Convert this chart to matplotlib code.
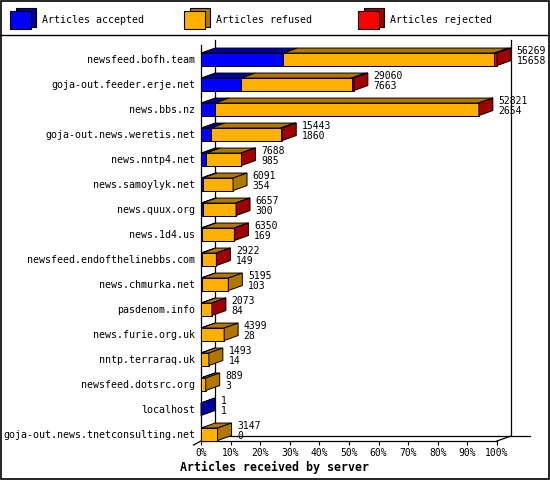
import numpy as np
import matplotlib
matplotlib.use('Agg')
import matplotlib.pyplot as plt
from matplotlib.patches import Polygon, Rectangle

servers = ['newsfeed.bofh.team', 'goja-out.feeder.erje.net', 'news.bbs.nz',
           'goja-out.news.weretis.net', 'news.nntp4.net', 'news.samoylyk.net',
           'news.quux.org', 'news.1d4.us', 'newsfeed.endofthelinebbs.com',
           'news.chmurka.net', 'pasdenom.info', 'news.furie.org.uk',
           'nntp.terraraq.uk', 'newsfeed.dotsrc.org', 'localhost',
           'goja-out.news.tnetconsulting.net']
total = [56269, 29060, 52821, 15443, 7688, 6091, 6657, 6350, 2922, 5195,
         2073, 4399, 1493, 889, 1, 3147]
accepted = [15658, 7663, 2654, 1860, 985, 354, 300, 169, 149, 103,
            84, 28, 14, 3, 1, 0]
# rejected is not printed on the chart, read roughly from the red parts
rejected = [480, 450, 40, 330, 60, 0, 50, 40, 30, 0, 20, 0, 0, 0, 0, 0]
refused = [t - a - r for t, a, r in zip(total, accepted, rejected)]

series = ['Articles accepted', 'Articles refused', 'Articles rejected']
front_col = ['#0000FF', '#FFB000', '#FF0000']
dark_col = ['#0000A0', '#B07800', '#A00000']
ticks = np.arange(0, 101, 10)

FONT = 'DejaVu Sans Mono'
plt.rcParams['font.family'] = FONT

fig = plt.figure(figsize=(5.5, 4.8), dpi=100)
W, H = 550, 480

# decoration layer in pixels: frame, legend
deco = fig.add_axes([0, 0, 1, 1], zorder=0)
deco.set_xlim(0, W)
deco.set_ylim(H, 0)
deco.axis('off')
deco.add_patch(Rectangle((0.5, 0.5), W - 1.5, H - 2, fill=False, lw=1.2, ec='black'))
deco.plot([0, W], [35, 35], color='black', lw=1.0)
for k, name in enumerate(series):
    x0 = 10 + 174 * k
    deco.add_patch(Rectangle((x0 + 6, 8), 20, 18.5, fc=dark_col[k], ec='black', lw=0.8))
    deco.add_patch(Rectangle((x0, 10.5), 20.5, 18.5, fc=front_col[k], ec='black', lw=0.8))
    deco.text(x0 + 32, 20, name, fontsize=7.2, va='center', ha='left')

# main plot, front plane 201..497 px, 45..441 px
L, R, T, B = 201, 497, 45, 441
ax = fig.add_axes([L / W, 1 - B / H, (R - L) / W, (B - T) / H], zorder=1)
ax.patch.set_visible(False)
rows = np.arange(len(servers))
ytop = (T - 59.3) / 25.0
ybot = (B - 59.3) / 25.0
ax.set_xlim(0, 100)
ax.set_ylim(ybot, ytop)
px_pct = (R - L) / 100.0
px_row = (B - T) / (ybot - ytop)
DX = 14 / px_pct
DY = 5 / px_row
h = 0.5

# back walls / floor
lk = dict(color='black', lw=0.9, clip_on=False, zorder=1)
ax.plot([DX, DX], [ytop - DY, ybot - DY], **lk)
ax.plot([100 + DX, 100 + DX], [ytop - DY, ybot - DY], **lk)
ax.plot([DX, 100 + DX + 19 / px_pct], [ybot - DY, ybot - DY], **lk)
ax.plot([100, 100 + DX], [ybot, ybot - DY], **lk)
ax.plot([0, -7.5 / px_pct], [ybot, ybot + 4 / px_row], **lk)

vmax = max(total)
for i in rows:
    vals = [accepted[i], refused[i], rejected[i]]
    y0, y1 = i - h / 2, i + h / 2
    left = 0.0
    last = 0
    for k, v in enumerate(vals):
        w = v / vmax * 100
        if v > 0:
            last = k
        if w <= 0:
            continue
        ax.add_patch(Polygon([(left, y0), (left + w, y0), (left + w + DX, y0 - DY), (left + DX, y0 - DY)],
                             closed=True, fc=dark_col[k], ec='black', lw=0.7, clip_on=False, zorder=3))
        ax.add_patch(Polygon([(left, y1), (left + w, y1), (left + w, y0), (left, y0)],
                             closed=True, fc=front_col[k], ec='black', lw=0.7, clip_on=False, zorder=4))
        left += w
    ax.add_patch(Polygon([(left, y0), (left + DX, y0 - DY), (left + DX, y1 - DY), (left, y1)],
                         closed=True, fc=dark_col[last], ec='black', lw=0.7, clip_on=False, zorder=4))
    ax.annotate('%d\n%d' % (total[i], accepted[i]), xy=(left + DX, i), xytext=(4, 2.5),
                textcoords='offset points', va='center', ha='left', fontsize=7,
                linespacing=1.0, annotation_clip=False, zorder=5)

ax.spines['top'].set_visible(False)
ax.spines['right'].set_visible(False)
ax.spines['left'].set_linewidth(0.9)
ax.spines['bottom'].set_linewidth(0.9)
ax.set_xticks(ticks)
ax.set_xticklabels(['%d%%' % t for t in ticks], fontsize=7)
ax.set_yticks(rows)
ax.set_yticklabels(servers, fontsize=7.2)
ax.tick_params(axis='x', length=3, width=0.8, pad=2)
ax.tick_params(axis='y', length=0, pad=4)

fig.text(275 / W, 1 - 467 / H, 'Articles received by server', fontsize=8.4,
         fontweight='bold', ha='center', va='center')

fig.savefig('out.png', dpi=100)
